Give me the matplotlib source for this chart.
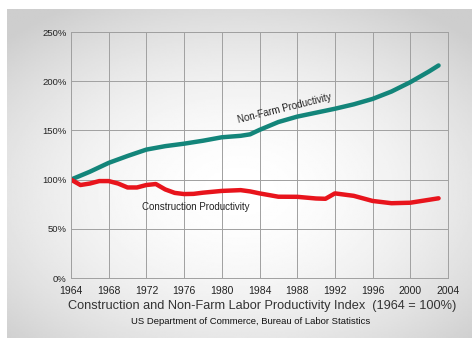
import matplotlib
matplotlib.use("Agg")
import matplotlib.pyplot as plt
import numpy as np

plt.rcParams['font.family'] = ['Liberation Sans', 'DejaVu Sans']

# values (percent of 1964)
nonfarm_years = [1964, 1966, 1968, 1970, 1972, 1974, 1976, 1978, 1980, 1982, 1983,
                 1984, 1986, 1988, 1990, 1992, 1994, 1996, 1998, 2000, 2002, 2003]
nonfarm_index = [100, 108, 117, 124, 130.5, 134, 136.5, 139.5, 143, 144.5, 146,
                 150.5, 158.5, 164, 168, 172, 176.5, 182, 189.5, 199, 210, 216]

constr_years = [1964, 1965, 1966, 1967, 1968, 1969, 1970, 1971, 1972, 1973, 1974,
                1975, 1976, 1977, 1978, 1980, 1982, 1983, 1984, 1986, 1988, 1990,
                1991, 1992, 1994, 1996, 1998, 2000, 2002, 2003]
constr_index = [100, 94.5, 96, 98.5, 98.5, 96, 92, 92, 94.5, 95.5, 90,
                86.5, 85.3, 85.5, 86.7, 88.5, 89.3, 88, 86, 82.6, 82.5, 80.8,
                80.5, 86, 83.5, 78.3, 76, 76.5, 79.5, 81]

year_ticks = list(range(1964, 2005, 4))
pct_ticks = [0, 50, 100, 150, 200, 250]

fig = plt.figure(figsize=(4.72, 3.38), dpi=100)

# grey panel with soft gradient behind everything
bg = fig.add_axes([7 / 472, 0, 1 - 7 / 472, 1 - 9 / 338], zorder=-10)
gx, gy = np.meshgrid(np.linspace(-1, 1, 300), np.linspace(-1, 1, 200))
r = np.sqrt((gx * 0.85) ** 2 + (gy * 0.9 - 0.1) ** 2)
shade = 1.0 - 0.14 * np.clip(r, 0, 1.2) ** 1.8
bg.imshow(shade, cmap='gray', vmin=0, vmax=1, aspect='auto', extent=[0, 1, 0, 1])
bg.axis('off')

ax = fig.add_axes([71 / 472, 60 / 338, 377 / 472, 246 / 338])
ax.patch.set_alpha(0)
ax.plot(nonfarm_years, nonfarm_index, color='#13857a', lw=3.2,
        solid_capstyle='round', solid_joinstyle='round')
ax.plot(constr_years, constr_index, color='#e8141c', lw=3.2,
        solid_capstyle='round', solid_joinstyle='round')

ax.set_xlim(1964, 2004)
ax.set_ylim(0, 250)
ax.set_xticks(year_ticks)
ax.set_yticks(pct_ticks)
ax.set_xticklabels([str(y) for y in year_ticks], fontsize=7.5, color='#222222')
ax.set_yticklabels([f'{p}%' for p in pct_ticks], fontsize=6.8, color='#222222')
ax.tick_params(length=0, pad=3)
ax.tick_params(axis='x', pad=6)
ax.grid(True, color='#a0a0a0', lw=0.7)
for s in ax.spines.values():
    s.set_color('#a0a0a0')
    s.set_linewidth(0.7)

ax.text(1986.7, 172, 'Non-Farm Productivity', rotation=14, fontsize=7,
        ha='center', va='center', color='#222222')
ax.text(1977.2, 72, 'Construction Productivity', fontsize=7,
        ha='center', va='center', color='#222222')

fig.text(0.556, 0.095, 'Construction and Non-Farm Labor Productivity Index  (1964 = 100%)',
         ha='center', va='center', fontsize=9.2, color='#333333')
fig.text(0.53, 0.048, 'US Department of Commerce, Bureau of Labor Statistics',
         ha='center', va='center', fontsize=6.8, color='#111111')

fig.savefig('out.png', dpi=100)
